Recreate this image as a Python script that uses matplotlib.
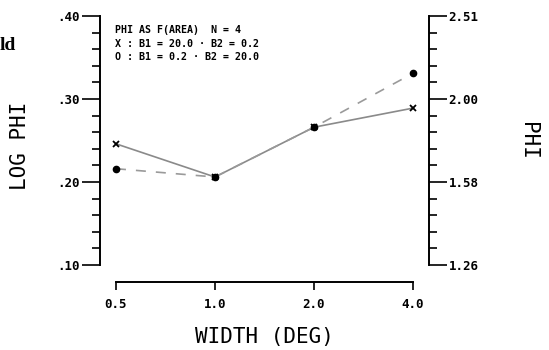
import numpy as np
import matplotlib
matplotlib.use("Agg")
import matplotlib.pyplot as plt
from matplotlib.ticker import MultipleLocator, FixedLocator, FuncFormatter, NullLocator

# data
widths = [0.5, 1.0, 2.0, 4.0]
width_labels = ["0.5", "1.0", "2.0", "4.0"]
logphi_x = [0.246, 0.206, 0.266, 0.289]   # X : B1 = 20.0, B2 = 0.2
logphi_o = [0.216, 0.206, 0.266, 0.331]   # O : B1 = 0.2, B2 = 20.0
y_ticks = [0.10, 0.20, 0.30, 0.40]
notes = ["PHI AS F(AREA)  N = 4",
         "X : B1 = 20.0 \u00b7 B2 = 0.2",
         "O : B1 = 0.2 \u00b7 B2 = 20.0"]

mono = "DejaVu Sans Mono"

fig = plt.figure(figsize=(5.49, 3.5), dpi=100)
ax = fig.add_axes([0.1821, 0.2429, 0.5993, 0.7114])

ax.plot(widths, logphi_x, color="#8a8a8a", lw=1.2, zorder=2)
ax.plot(widths, logphi_o, color="#9a9a9a", lw=1.2, ls=(0, (6, 6)), zorder=2)
ax.plot(widths, logphi_x, ls="none", marker="x", ms=4, mew=1.3, color="black", zorder=3)
ax.plot(widths, logphi_o, ls="none", marker="o", ms=4.5, color="black", zorder=3)

ax.set_xscale("log", base=2)
ax.set_xlim(0.5 * 2 ** -0.1616, 4 * 2 ** 0.1616)
ax.set_ylim(0.10, 0.40)

ax.xaxis.set_major_locator(FixedLocator(widths))
ax.xaxis.set_minor_locator(NullLocator())
ax.set_xticklabels(width_labels)
ax.yaxis.set_major_locator(FixedLocator(y_ticks))
ax.yaxis.set_minor_locator(MultipleLocator(0.02))
ax.yaxis.set_major_formatter(FuncFormatter(lambda v, p: f"{v:.2f}".lstrip("0")))

for s in ["top", "right"]:
    ax.spines[s].set_visible(False)
ax.spines["left"].set_linewidth(1.4)
ax.spines["bottom"].set_linewidth(1.4)
ax.spines["bottom"].set_position(("outward", 12.5))
ax.spines["bottom"].set_bounds(0.5, 4.0)

ax.tick_params(axis="y", which="major", direction="out", length=13, width=1.2, pad=1.5)
ax.tick_params(axis="y", which="minor", direction="out", length=6, width=1.2)
ax.tick_params(axis="x", which="major", direction="out", length=6, width=1.2, pad=5)
for lab in ax.get_xticklabels() + ax.get_yticklabels():
    lab.set_fontfamily(mono)
    lab.set_fontweight("bold")
    lab.set_fontsize(9)

# right axis shows PHI = 10 ** LOG PHI
ax2 = ax.twinx()
ax2.set_ylim(ax.get_ylim())
for s in ["top", "left", "bottom"]:
    ax2.spines[s].set_visible(False)
ax2.spines["right"].set_linewidth(1.4)
ax2.yaxis.set_major_locator(FixedLocator(y_ticks))
ax2.yaxis.set_minor_locator(MultipleLocator(0.02))
ax2.yaxis.set_major_formatter(FuncFormatter(lambda v, p: f"{10 ** v:.2f}"))
ax2.tick_params(axis="y", which="major", direction="out", length=13, width=1.2, pad=1)
ax2.tick_params(axis="y", which="minor", direction="out", length=6, width=1.2)
for lab in ax2.get_yticklabels():
    lab.set_fontfamily(mono)
    lab.set_fontweight("bold")
    lab.set_fontsize(9)

ax.set_ylabel("LOG PHI", family=mono, fontsize=15, va="center")
ax.yaxis.set_label_coords(-0.243, 0.48)
ax2.set_ylabel("PHI", family=mono, fontsize=15, rotation=-90, va="center")
ax2.yaxis.set_label_coords(1.3, 0.5)
ax.set_xlabel("WIDTH (DEG)", family=mono, fontsize=15, va="center")
ax.xaxis.set_label_coords(0.5, -0.29)

for i, t in enumerate(notes):
    ax.text(0.045, 0.944 - i * 0.055, t, transform=ax.transAxes, family=mono,
            fontweight="bold", fontsize=7.2, va="center")

# stray fragment of the page text at the left edge
fig.text(0.0, 0.857, "ld", family="Liberation Serif", fontsize=14, fontweight="bold")

fig.savefig("out.png", dpi=100)
